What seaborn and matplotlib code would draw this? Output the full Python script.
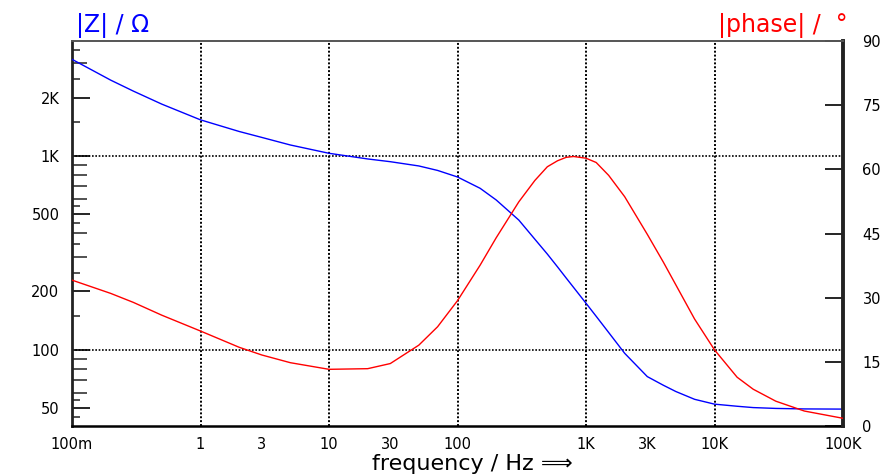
import numpy as np
import pandas as pd
import matplotlib
matplotlib.use("Agg")
import matplotlib.pyplot as plt
from matplotlib.ticker import NullFormatter, NullLocator
import seaborn as sns

# values
FREQ = [0.1, 0.2, 0.3, 0.5, 1, 2, 3, 5, 10, 20, 30, 50, 70, 100, 150, 200, 300, 400,
        500, 600, 700, 800, 1000, 1200, 1500, 2000, 3000, 4000, 5000, 7000, 10000,
        15000, 20000, 30000, 50000, 100000]
IMPEDANCE = [3150, 2460, 2160, 1850, 1535, 1337, 1246, 1139, 1032, 965, 934, 888, 842,
             779, 681, 593, 467, 372, 312, 268, 235, 210, 174, 149, 123, 96, 72.8,
             65.7, 61.0, 55.6, 52.5, 51.2, 50.4, 49.9, 49.6, 49.5]
PHASE = [34.1, 31.0, 28.9, 25.9, 22.2, 18.4, 16.6, 14.8, 13.25, 13.4, 14.6, 18.9, 23.2,
         29.3, 37.6, 44.0, 52.4, 57.4, 60.6, 62.0, 62.8, 63.0, 62.6, 61.6, 58.6, 53.6,
         44.8, 38.3, 33.0, 25.0, 17.8, 11.4, 8.6, 5.8, 3.5, 1.8]

X_MAJOR = [0.1, 1, 10, 100, 1e3, 1e4, 1e5]
X_MAJOR_LABELS = ["100m", "1", "10", "100", "1K", "10K", "100K"]
X_MINOR = [0.5, 3, 5, 30, 50, 500, 3000, 5000, 50000]
X_MINOR_LABELS = ["", "3", "", "30", "", "", "3K", "", ""]

Z_MAJOR = [50, 100, 200, 500, 1000, 2000]
Z_MAJOR_LABELS = ["50", "100", "200", "500", "1K", "2K"]
Z_MEDIUM = [60, 70, 80, 90, 300, 400, 600, 700, 800, 900, 3000]
Z_SHORT = [45, 55, 150, 250, 350, 450, 550, 1500, 2500, 3500]

PHASE_TICKS = [0, 15, 30, 45, 60, 75, 90]

GRID_FREQ = [1, 10, 100, 1e3, 1e4]
GRID_Z = [100, 1000]

df = pd.DataFrame({"freq": FREQ, "z": IMPEDANCE, "phase": PHASE})

sns.set_theme(style="white")
plt.rcParams["font.family"] = ["DejaVu Sans"]

W, H = 894, 474
fig = plt.figure(figsize=(W / 100, H / 100), dpi=100)
ax = fig.add_axes([72 / W, (H - 426) / H, (843 - 72) / W, (426 - 41) / H])
ax2 = ax.twinx()

dot = (0, (1, 1))
for f in GRID_FREQ:
    ax.axvline(f, color="black", lw=1.4, ls=dot, zorder=1)
for z in GRID_Z:
    ax.axhline(z, color="black", lw=1.2, ls=dot, zorder=1)

sns.lineplot(data=df, x="freq", y="z", ax=ax, color="#0000ff", lw=1.0, zorder=3)
sns.lineplot(data=df, x="freq", y="phase", ax=ax2, color="#ff0000", lw=1.0, zorder=3)

ax.set_xscale("log")
ax.set_yscale("log")
ax.set_xlim(0.1, 1e5)
ax.set_ylim(40.5, 3915)
ax2.set_ylim(0, 90)

ax.set_xticks(X_MAJOR, labels=X_MAJOR_LABELS)
ax.set_xticks(X_MINOR, labels=X_MINOR_LABELS, minor=True)
ax.set_yticks(Z_MAJOR, labels=Z_MAJOR_LABELS)
ax.set_yticks(Z_MEDIUM, minor=True)
ax.yaxis.set_minor_formatter(NullFormatter())
ax2.set_yticks(PHASE_TICKS, labels=[str(p) for p in PHASE_TICKS])

tick_font = 10.5
ax.tick_params(axis="x", which="both", direction="in", length=7, width=1.2,
               colors="black", labelsize=tick_font, pad=8, top=False)
ax.tick_params(axis="y", which="major", direction="in", length=13, width=1.2,
               colors="black", labelsize=tick_font, pad=9, right=False)
ax.tick_params(axis="y", which="minor", direction="in", length=11, width=1.2,
               colors="#333333", right=False)
ax2.tick_params(axis="y", which="both", direction="in", length=13, width=1.2,
                colors="black", labelsize=tick_font, pad=14)
ax2.yaxis.set_minor_locator(NullLocator())

# shorter intermediate ticks on the |Z| axis
sec = ax.secondary_yaxis("left")
sec.yaxis.set_minor_locator(NullLocator())
sec.set_yticks(Z_SHORT, labels=[""] * len(Z_SHORT))
sec.tick_params(axis="y", which="major", direction="in", length=6, width=1.2, colors="#333333")
sec.spines["left"].set_visible(False)

ax.set_xlabel("")
ax.set_ylabel("")
ax2.set_ylabel("")

for side in ["top", "right"]:
    ax.spines[side].set_visible(False)
for side in ["left", "top", "bottom"]:
    ax2.spines[side].set_visible(False)
ax.spines["left"].set_linewidth(2.0)
ax.spines["left"].set_color("#222222")
ax.spines["bottom"].set_linewidth(1.8)
ax.spines["bottom"].set_color("black")
ax2.spines["right"].set_linewidth(2.8)
ax2.spines["right"].set_color("#222222")
ax2.spines["top"].set_visible(True)
ax2.spines["top"].set_linewidth(1.4)
ax2.spines["top"].set_color("#555555")

fig.text(76 / W, 1 - 32 / H, "|Z| / Ω", color="#0000ff", fontsize=17,
         ha="left", va="baseline")
fig.text(848 / W, 1 - 32 / H, "|phase| /  °", color="#ff0000", fontsize=17,
         ha="right", va="baseline")
fig.text(472 / W, 1 - 470 / H, "frequency / Hz ⟹", color="black", fontsize=16,
         ha="center", va="baseline")

fig.savefig("out.png", dpi=100, facecolor="white")
